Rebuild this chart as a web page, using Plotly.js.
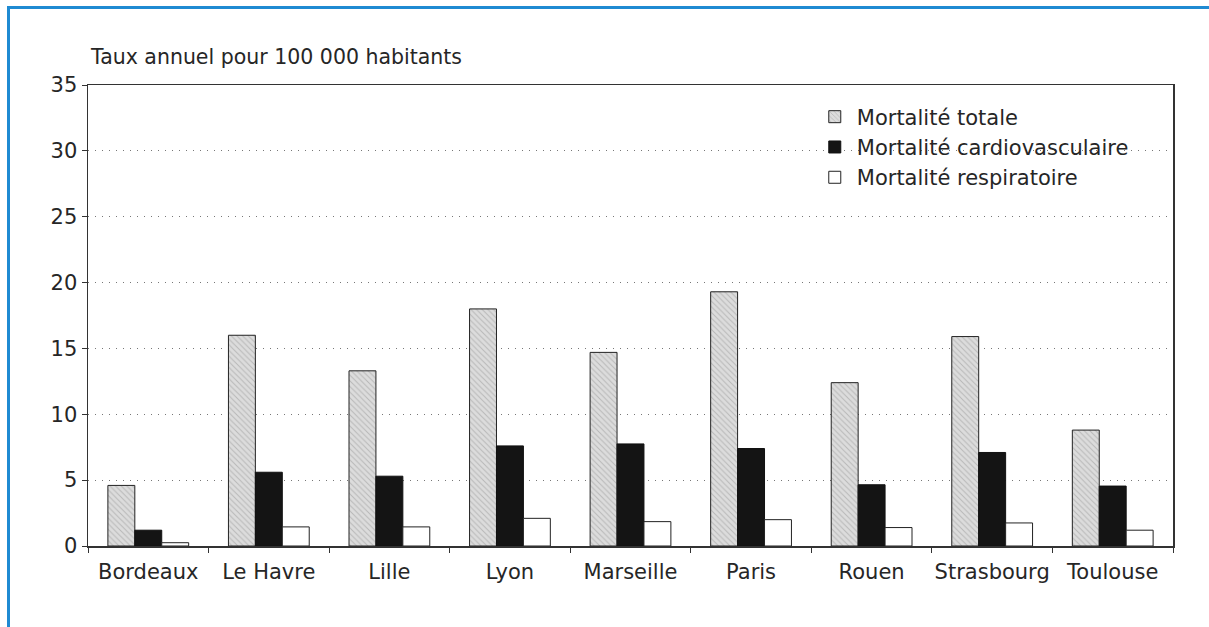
<!DOCTYPE html>
<html>
<head>
<meta charset="utf-8">
<script src="https://cdn.plot.ly/plotly-3.0.1.min.js"></script>
<style>
  html, body { margin: 0; padding: 0; background: #fff; }
  #frame { position: absolute; left: 7px; top: 6px; width: 1202px; height: 621px;
           border-left: 3px solid #1f8ad2; border-top: 3px solid #1f8ad2; box-sizing: border-box; }
  #chart { position: absolute; left: 0; top: 0; width: 1209px; height: 627px; }
</style>
</head>
<body>
<div id="frame"></div>
<div id="chart"></div>
<script>
const villes = ["Bordeaux", "Le Havre", "Lille", "Lyon", "Marseille", "Paris", "Rouen", "Strasbourg", "Toulouse"];
const mortaliteTotale = [4.6, 16.0, 13.3, 18.0, 14.7, 19.3, 12.4, 15.9, 8.8];
const mortaliteCardio = [1.2, 5.6, 5.3, 7.6, 7.75, 7.4, 4.65, 7.1, 4.55];
const mortaliteResp = [0.25, 1.45, 1.45, 2.1, 1.85, 2.0, 1.4, 1.75, 1.2];
const yTicks = [0, 5, 10, 15, 20, 25, 30, 35];

const font = "DejaVu Sans, Liberation Sans, Arial, sans-serif";
const txt = "#262626";

const traces = [
  {
    type: "bar", name: "Mortalité totale", x: villes, y: mortaliteTotale,
    marker: { color: "#d9d9d9", line: { color: "#222", width: 1 },
              pattern: { shape: "\\", fgcolor: "#b8b8b8", bgcolor: "#dcdcdc", size: 4, solidity: 0.25 } }
  },
  {
    type: "bar", name: "Mortalité cardiovasculaire", x: villes, y: mortaliteCardio,
    marker: { color: "#141414", line: { color: "#111", width: 1 } }
  },
  {
    type: "bar", name: "Mortalité respiratoire", x: villes, y: mortaliteResp,
    marker: { color: "#ffffff", line: { color: "#222", width: 1 } }
  }
];

const layout = {
  width: 1209, height: 627,
  margin: { l: 88, r: 36, t: 85, b: 81 },
  paper_bgcolor: "rgba(0,0,0,0)",
  plot_bgcolor: "#ffffff",
  barmode: "group",
  bargap: 0.33,
  bargroupgap: 0,
  showlegend: true,
  font: { family: font, size: 20, color: txt },
  legend: {
    x: 0.668, y: 0.975, xanchor: "left", yanchor: "top",
    bgcolor: "rgba(0,0,0,0)", borderwidth: 0,
    font: { family: font, size: 21, color: txt },
    tracegroupgap: 0, itemwidth: 34
  },
  xaxis: {
    type: "category",
    showline: true, linecolor: "#333", linewidth: 1.5, mirror: true,
    ticks: "outside", tickson: "boundaries", ticklen: 5, tickcolor: "#333",
    showgrid: false, ticklabelstandoff: 6, tickangle: 0,
    tickfont: { family: font, size: 21, color: txt },
    fixedrange: true
  },
  yaxis: {
    range: [0, 35], tickvals: yTicks, ticktext: yTicks.map(String),
    showline: true, linecolor: "#333", linewidth: 1.5, mirror: true,
    ticks: "outside", ticklen: 5, tickcolor: "#333",
    showgrid: true, gridcolor: "#777", griddash: "1px,6px", gridwidth: 1,
    zeroline: false,
    tickfont: { family: font, size: 21, color: txt },
    fixedrange: true
  },
  annotations: [
    {
      text: "Taux annuel pour 100 000 habitants",
      xref: "paper", yref: "paper", x: 0, y: 1, xanchor: "left", yanchor: "bottom",
      xshift: 0, yshift: 14, showarrow: false,
      font: { family: font, size: 20.5, color: txt }
    }
  ]
};

Plotly.newPlot("chart", traces, layout, { displayModeBar: false, staticPlot: true });
</script>
</body>
</html>
